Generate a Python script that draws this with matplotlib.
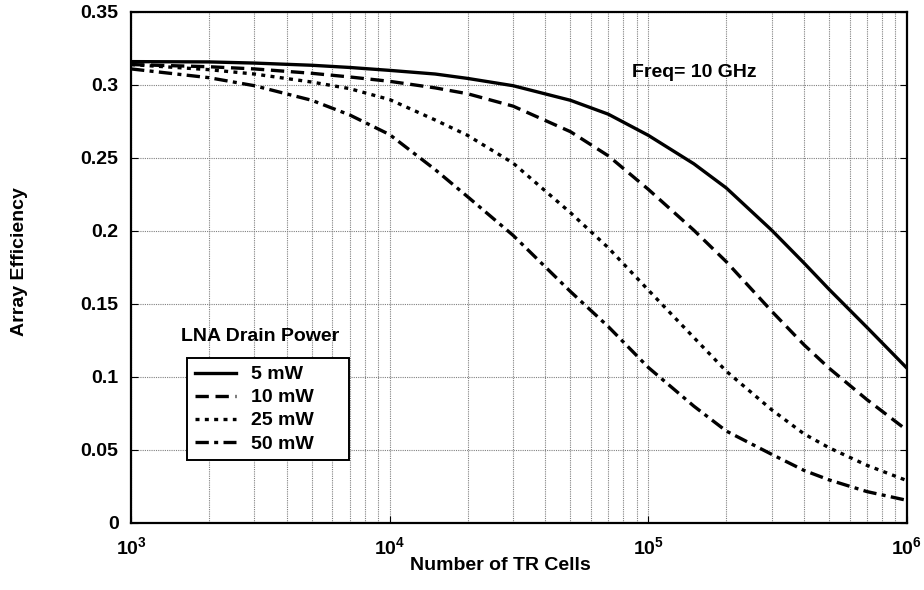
import numpy as np
import matplotlib
matplotlib.use("Agg")
import matplotlib.pyplot as plt
from matplotlib.ticker import LogLocator, NullFormatter

plt.rcParams['font.family'] = ['Liberation Sans', 'DejaVu Sans']
plt.rcParams['font.weight'] = 'bold'
plt.rcParams['mathtext.fontset'] = 'custom'
plt.rcParams['mathtext.rm'] = 'Liberation Sans:bold'
plt.rcParams['mathtext.bf'] = 'Liberation Sans:bold'

# number of TR cells
n_cells = [1e3, 2e3, 3e3, 5e3, 7e3, 1e4, 1.5e4, 2e4, 3e4, 5e4, 7e4,
           1e5, 1.5e5, 2e5, 3e5, 4e5, 5e5, 7e5, 1e6]

# array efficiency for each LNA drain power
eff_5mw = [0.316, 0.3158, 0.315, 0.3135, 0.312, 0.310, 0.3075, 0.3045, 0.2995, 0.2895, 0.280,
           0.2655, 0.246, 0.2295, 0.2005, 0.178, 0.160, 0.134, 0.106]
eff_10mw = [0.314, 0.3125, 0.311, 0.308, 0.3055, 0.3025, 0.298, 0.294, 0.2855, 0.268, 0.2515,
            0.2285, 0.2005, 0.179, 0.145, 0.122, 0.106, 0.0845, 0.0635]
eff_25mw = [0.314, 0.3105, 0.3075, 0.302, 0.2975, 0.290, 0.276, 0.2655, 0.2465, 0.2125, 0.1885,
            0.1595, 0.127, 0.104, 0.0775, 0.061, 0.0515, 0.0395, 0.029]
eff_50mw = [0.311, 0.305, 0.2995, 0.2895, 0.2795, 0.266, 0.242, 0.2235, 0.197, 0.1585, 0.1345,
            0.1065, 0.080, 0.063, 0.047, 0.036, 0.0295, 0.0215, 0.0155]

labels = ['5 mW', '10 mW', '25 mW', '50 mW']
styles = ['-', (0, (4, 2)), (0, (1.2, 1.6)), (0, (4, 1.6, 1.2, 1.6))]

xticks = [1e3, 1e4, 1e5, 1e6]
xticklabels = [r'$10^{3}$', r'$10^{4}$', r'$10^{5}$', r'$10^{6}$']
yticks = [0, 0.05, 0.1, 0.15, 0.2, 0.25, 0.3, 0.35]
yticklabels = ['0', '0.05', '0.1', '0.15', '0.2', '0.25', '0.3', '0.35']

fig = plt.figure(figsize=(9.24, 5.90), dpi=100)
ax = fig.add_axes([0.1418, 0.1136, 0.8398, 0.8661])

for y, lab, ls in zip([eff_5mw, eff_10mw, eff_25mw, eff_50mw], labels, styles):
    ax.plot(n_cells, y, color='black', lw=2.4, linestyle=ls, label=lab)

ax.set_xscale('log')
ax.set_xlim(1e3, 1e6)
ax.set_ylim(0, 0.35)
ax.set_xticks(xticks)
ax.set_xticklabels(xticklabels)
ax.set_yticks(yticks)
ax.set_yticklabels(yticklabels)
ax.xaxis.set_minor_locator(LogLocator(base=10, subs=np.arange(2, 10)))
ax.xaxis.set_minor_formatter(NullFormatter())

ax.grid(True, which='major', color='#808080', linestyle=(0, (1, 1)), lw=0.8)
ax.grid(True, which='minor', axis='x', color='#808080', linestyle=(0, (1, 1)), lw=0.8)
ax.tick_params(axis='both', which='major', direction='in', length=5,
               right=True, labelsize=14)
ax.tick_params(axis='y', pad=9)
ax.tick_params(axis='x', pad=10)
ax.tick_params(axis='x', which='minor', length=0)
for s in ax.spines.values():
    s.set_linewidth(1.6)

fig.text(500 / 924, 1 - 566 / 590, 'Number of TR Cells', fontsize=14,
         fontweight='bold', ha='center', va='center')
fig.text(20 / 924, 1 - 262 / 590, 'Array Efficiency', fontsize=14,
         fontweight='bold', ha='center', va='center', rotation=90)

ax.text(0.7255, 0.8816, 'Freq= 10 GHz', transform=ax.transAxes, fontsize=14,
        fontweight='bold', ha='center', va='center')
ax.text(0.166, 0.364, 'LNA Drain Power', transform=ax.transAxes, fontsize=14,
        fontweight='bold', ha='center', va='center')

leg = ax.legend(loc='upper left', bbox_to_anchor=(0.0722, 0.3229, 0.2088, 0.0),
                mode='expand', fontsize=14, handlelength=2.1, handletextpad=0.8,
                frameon=True, fancybox=False, edgecolor='black', borderaxespad=0,
                labelspacing=0.28, borderpad=0.4)
leg.get_frame().set_linewidth(1.4)
leg.get_frame().set_alpha(1)

fig.savefig('out.png', dpi=100)
